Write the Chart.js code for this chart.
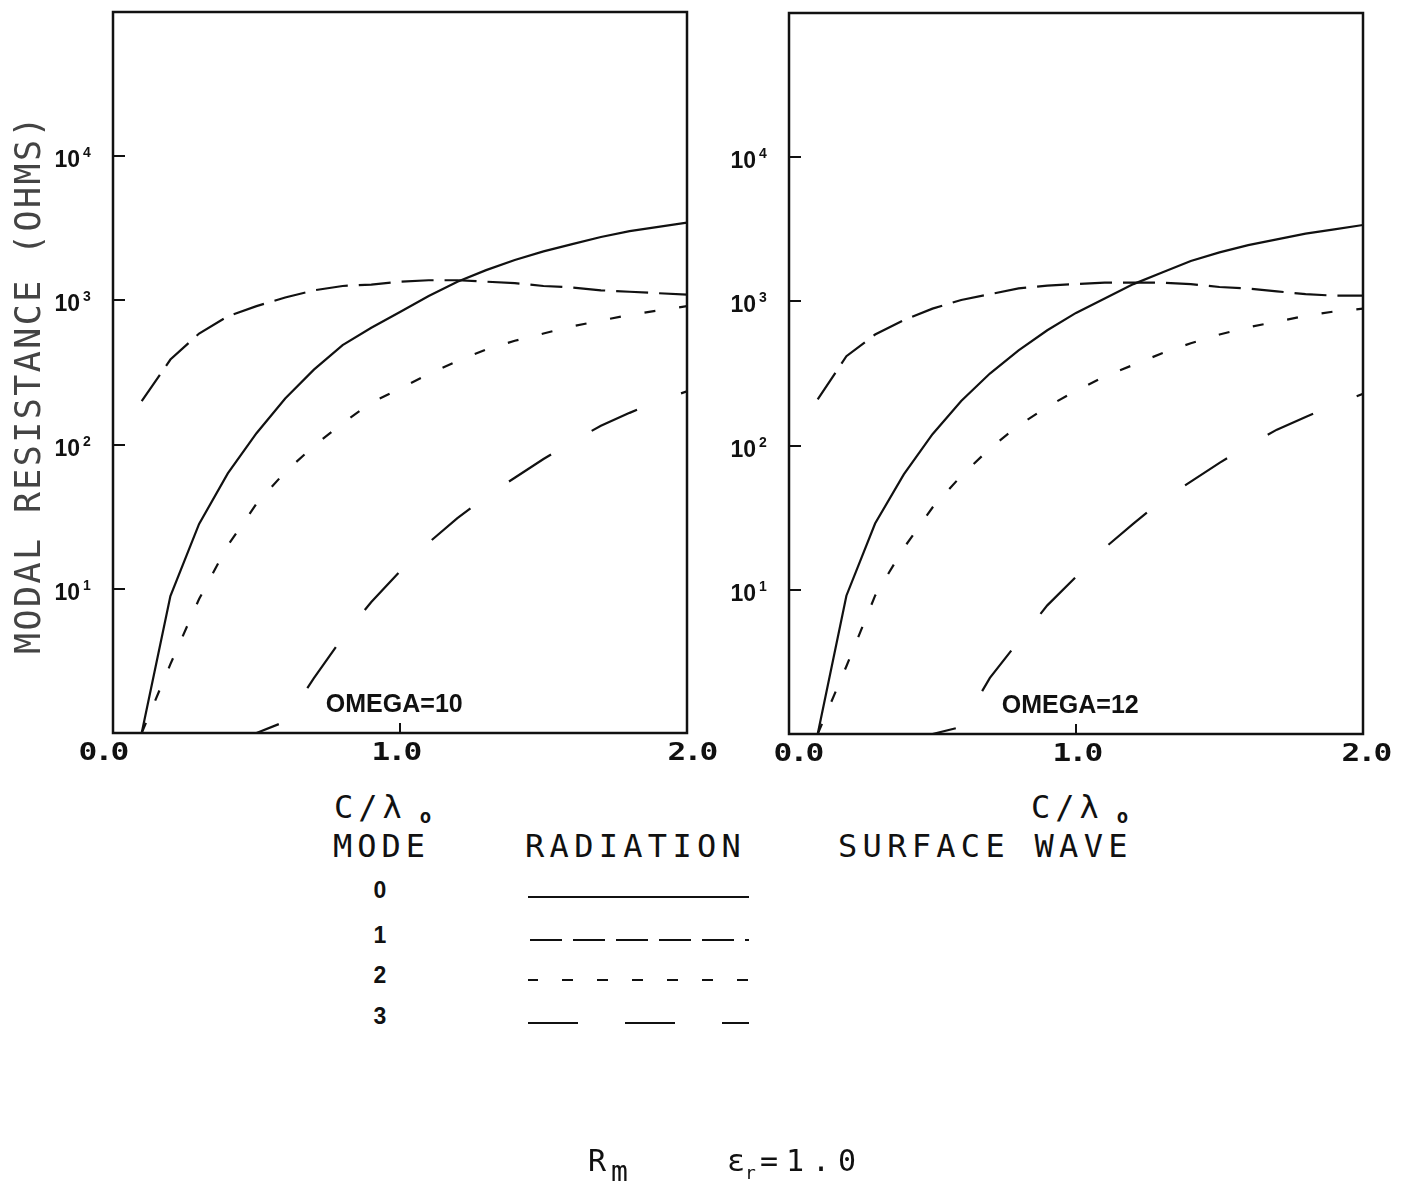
<!DOCTYPE html>
<html>
<head>
<meta charset="utf-8">
<script src="https://cdn.jsdelivr.net/npm/chart.js@4.4.1/dist/chart.umd.min.js"></script>
<style>
  html, body { margin: 0; padding: 0; background: #fff; }
  body { width: 1406px; height: 1182px; position: relative; overflow: hidden; }
  canvas { position: absolute; top: 0; }
  #left { left: 0; }
  #right { left: 700px; }
  .t { position: absolute; font-family: "DejaVu Sans Mono", monospace; font-size: 32px; line-height: 1;
       color: #111; white-space: nowrap; letter-spacing: 5px; }
  .num { position: absolute; font-family: "Liberation Sans", Arial, sans-serif; font-weight: bold; font-size: 23px;
         line-height: 1; color: #111; transform: translate(-50%, -50%); }
  .ytitle { left: 28px; top: 384px; font-size: 35px; letter-spacing: 2.4px; color: #444;
            transform: translate(-50%, -50%) rotate(-90deg); }
  .sub { position: relative; letter-spacing: 0; }
  .naught { font-size: 19px; font-weight: bold; top: 5px; margin-left: 13px; }
  #key { position: absolute; left: 0; top: 0; }
</style>
</head>
<body>
<canvas id="left" width="730" height="780"></canvas>
<canvas id="right" width="706" height="780"></canvas>

<div class="t ytitle">MODAL RESISTANCE (OHMS)</div>

<div class="t" style="left:334px; top:791px;">C/λ<span class="sub naught">o</span></div>
<div class="t" style="left:1031px; top:791px;">C/λ<span class="sub naught">o</span></div>

<div class="t" style="left:333px; top:830px;">MODE</div>
<div class="t" style="left:525px; top:830px; letter-spacing:5.3px;">RADIATION</div>
<div class="t" style="left:838px; top:830px; letter-spacing:5.3px;">SURFACE WAVE</div>

<div id="modes"></div>
<svg id="key" width="1406" height="1182"></svg>

<div class="t" style="left:588px; top:1146px; font-size:30px;">R<span class="sub" style="top:10px; font-size:28px;">m</span></div>
<div class="t" style="left:727px; top:1146px; font-size:30px; letter-spacing:0;">ε<span class="sub" style="top:8px; font-size:18px;">r</span><span style="letter-spacing:8px; margin-left:4px;">=1.0</span></div>

<script>
// sampled C/lambda0 values
const xSteps = [0.1, 0.2, 0.3, 0.4, 0.5, 0.6, 0.7, 0.8, 0.9, 1.0, 1.1, 1.2, 1.3, 1.4, 1.5, 1.6, 1.7, 1.8, 1.9, 2.0];
const xSteps3 = [0.5, 0.6, 0.7, 0.8, 0.9, 1.0, 1.1, 1.2, 1.3, 1.4, 1.5, 1.6, 1.7, 1.8, 1.9, 2.0];

// modal resistance (ohms), OMEGA=10
const om10Mode0 = [1.0, 8.9, 28.2, 63.1, 120, 209, 331, 490, 646, 832, 1072, 1349, 1622, 1905, 2188, 2455, 2754, 3020, 3236, 3467];
const om10Mode1 = [200, 389, 589, 776, 912, 1047, 1175, 1259, 1288, 1349, 1380, 1380, 1349, 1318, 1259, 1230, 1175, 1148, 1122, 1096];
const om10Mode2 = [1.0, 3.0, 8.5, 20, 38.9, 64.6, 97.7, 141, 195, 245, 309, 380, 457, 525, 589, 661, 724, 794, 851, 912];
const om10Mode3 = [1.0, 1.2, 2.4, 4.6, 8.1, 13.2, 20.9, 30.9, 43.7, 58.9, 79.4, 105, 135, 166, 200, 234];

// modal resistance (ohms), OMEGA=12
const om12Mode0 = [1.0, 9.1, 28.8, 63.1, 120, 204, 316, 457, 631, 832, 1047, 1318, 1585, 1905, 2188, 2455, 2692, 2951, 3162, 3388];
const om12Mode1 = [209, 417, 589, 741, 891, 1023, 1122, 1230, 1288, 1318, 1349, 1349, 1349, 1318, 1259, 1230, 1175, 1122, 1096, 1096];
const om12Mode2 = [1.0, 2.95, 9.1, 19.5, 37.2, 61.7, 95.5, 138, 186, 240, 302, 363, 437, 513, 589, 661, 724, 794, 851, 891];
const om12Mode3 = [1.0, 1.12, 2.45, 4.4, 7.8, 12.3, 19.5, 28.8, 41.7, 56.2, 75.9, 100, 129, 158, 191, 229];

const decadeTicks = [10, 100, 1000, 10000];
const decadeExp = ['1', '2', '3', '4'];
const xTickValues = [0, 1, 2];
const xTickLabels = ['0.0', '1.0', '2.0'];
const modeNames = ['0', '1', '2', '3'];
const modeDash = [[], [32, 11], [11, 24], [50, 47]];
const modeDashOffset = [0, 0, 0, 26];

function spacedText(ctx, str, cx, baseline, step) {
  const start = cx - step * (str.length - 1) / 2;
  [...str].forEach((ch, i) => {
    ctx.save();
    ctx.translate(start + i * step, baseline);
    ctx.scale(1.3, 1);
    ctx.fillText(ch, 0, 0);
    ctx.restore();
  });
}

const panelDecor = {
  id: 'panelDecor',
  afterDraw(chart, args, opts) {
    const { ctx, chartArea: a, scales: { x, y } } = chart;
    ctx.save();
    ctx.strokeStyle = '#111';
    ctx.fillStyle = '#111';
    ctx.lineWidth = 2.5;
    ctx.strokeRect(a.left, a.top, a.right - a.left, a.bottom - a.top);

    // decade ticks on the left edge, 10^n labels
    ctx.lineWidth = 2;
    decadeTicks.forEach((v, i) => {
      const py = Math.round(y.getPixelForValue(v));
      ctx.beginPath();
      ctx.moveTo(a.left, py);
      ctx.lineTo(a.left + 12, py);
      ctx.stroke();
      ctx.textAlign = 'right';
      ctx.textBaseline = 'alphabetic';
      ctx.font = 'bold 23px "Liberation Sans"';
      ctx.fillText('10', a.left - 33, py + 11);
      ctx.textAlign = 'left';
      ctx.font = 'bold 14px "Liberation Sans"';
      ctx.fillText(decadeExp[i], a.left - 30, py + 1);
    });

    // C/lambda ticks along the bottom
    ctx.font = 'bold 24px "DejaVu Sans Mono"';
    ctx.textAlign = 'center';
    xTickValues.forEach((v, i) => {
      const px = x.getPixelForValue(v);
      if (v > x.min && v < x.max) {
        ctx.beginPath();
        ctx.moveTo(px, a.bottom);
        ctx.lineTo(px, a.bottom - 10);
        ctx.stroke();
      }
      spacedText(ctx, xTickLabels[i], px + opts.labelShift[i], a.bottom + 27, 16);
    });

    ctx.font = 'bold 25px "Liberation Sans"';
    ctx.textAlign = 'center';
    ctx.fillText(opts.omega, x.getPixelForValue(0.98), a.bottom - 21);
    ctx.restore();
  }
};

function makePanel(id, omega, modes, padding, labelShift) {
  const xs = [xSteps, xSteps, xSteps, xSteps3];
  new Chart(document.getElementById(id), {
    type: 'line',
    data: {
      datasets: modes.map((vals, m) => ({
        label: 'MODE ' + modeNames[m],
        data: vals.map((v, j) => ({ x: xs[m][j], y: v })),
        borderColor: '#111',
        borderWidth: 2.2,
        borderDash: modeDash[m],
        borderDashOffset: modeDashOffset[m],
        pointRadius: 0,
        tension: 0,
        fill: false
      }))
    },
    options: {
      responsive: false,
      animation: false,
      devicePixelRatio: 1,
      layout: { padding },
      plugins: {
        legend: { display: false },
        tooltip: { enabled: false },
        panelDecor: { omega, labelShift }
      },
      scales: {
        x: { type: 'linear', min: 0, max: 2, display: false },
        y: { type: 'logarithmic', min: 1, max: 100000, display: false }
      }
    },
    plugins: [panelDecor]
  });
}

makePanel('left', 'OMEGA=10', [om10Mode0, om10Mode1, om10Mode2, om10Mode3],
  { left: 113, top: 12, right: 43, bottom: 47 }, [-9, -3, 6]);
makePanel('right', 'OMEGA=12', [om12Mode0, om12Mode1, om12Mode2, om12Mode3],
  { left: 89, top: 13, right: 43, bottom: 46 }, [10, 2, 4]);

// key: mode numbers and line samples
const rowCenters = [890, 935, 975, 1016];
const rowLines = [897, 940, 980, 1023];
const keyDashOffset = [0, -2, 1, 0];
const modesDiv = document.getElementById('modes');
const key = document.getElementById('key');
modeNames.forEach((name, i) => {
  const d = document.createElement('div');
  d.className = 'num';
  d.style.left = '380px';
  d.style.top = rowCenters[i] + 'px';
  d.textContent = name;
  modesDiv.appendChild(d);

  const ln = document.createElementNS('http://www.w3.org/2000/svg', 'line');
  ln.setAttribute('x1', 528);
  ln.setAttribute('x2', 749);
  ln.setAttribute('y1', rowLines[i]);
  ln.setAttribute('y2', rowLines[i]);
  ln.setAttribute('stroke', '#111');
  ln.setAttribute('stroke-width', 2);
  if (modeDash[i].length) {
    ln.setAttribute('stroke-dasharray', modeDash[i].join(' '));
    ln.setAttribute('stroke-dashoffset', keyDashOffset[i]);
  }
  key.appendChild(ln);
});
</script>
</body>
</html>
